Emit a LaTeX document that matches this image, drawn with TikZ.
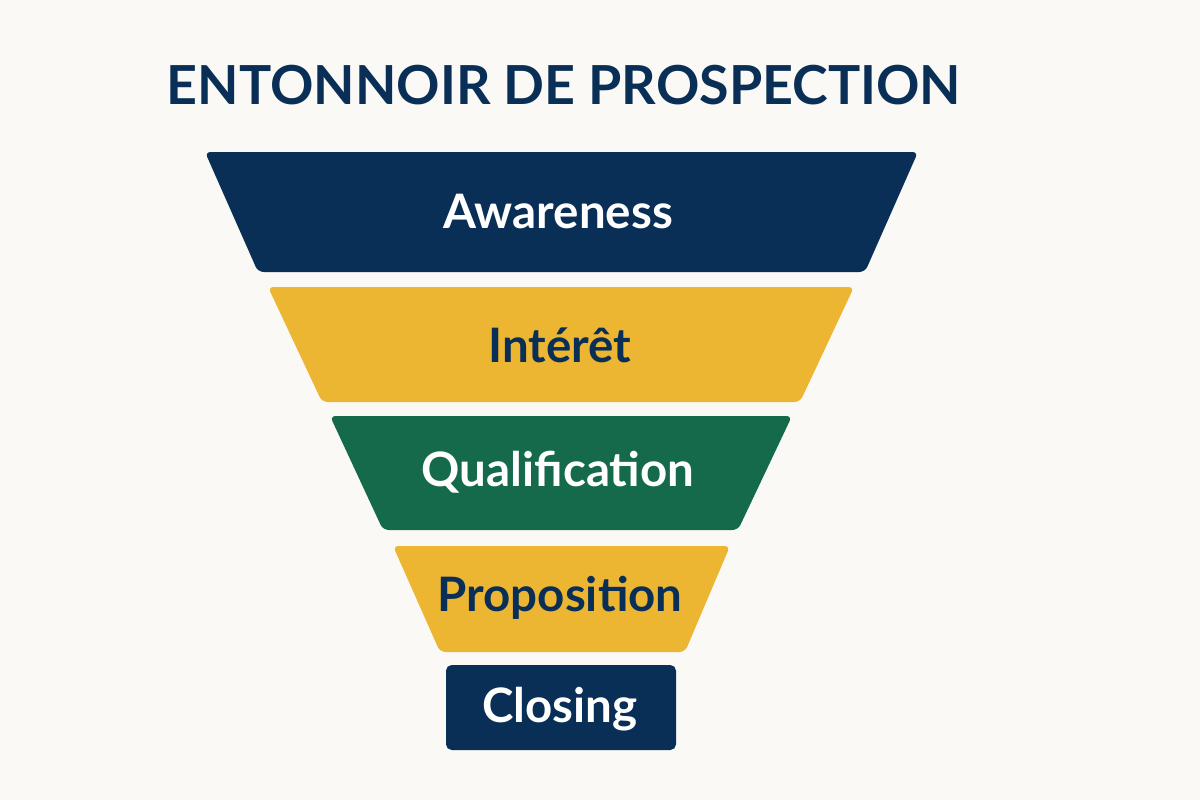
\documentclass[tikz,border=0pt]{standalone}
\usepackage{fontspec}
\setmainfont{Lato}
\definecolor{navy}{HTML}{0A2F57}
\definecolor{gold}{HTML}{EDB632}
\definecolor{forest}{HTML}{146A4B}
\definecolor{paper}{HTML}{FAF9F5}
\tikzset{
  layer/.style={rounded corners=1.6pt},
  lbl/.style={font=\fontsize{13.5}{16}\selectfont\bfseries},
}
\begin{document}
\begin{tikzpicture}[x=0.01cm,y=-0.01cm]
    \fill[paper] (0,0) rectangle (1200,800);
    \useasboundingbox (0,0) rectangle (1200,800);

    \node[anchor=west, inner sep=0pt, navy, font=\fontsize{15.3}{18}\selectfont\bfseries] (title) at (166,85) {ENTONNOIR DE PROSPECTION};

    % funnel layers
    \fill[navy, layer] (205,152) -- (918,152) -- (865,272) -- (258,272) -- cycle;
    \fill[gold, layer] (268,287) -- (854,287) -- (800,402) -- (322,402) -- cycle;
    \fill[forest, layer] (330,416) -- (792,416) -- (738,530) -- (383,530) -- cycle;
    \fill[gold, layer] (393,546) -- (730,546) -- (685,652) -- (440,652) -- cycle;
    \fill[navy, layer] (446,665) rectangle (676,750);

    \node[lbl, white] (awareness) at (558,212) {Awareness};
    \node[lbl, navy] (interet) at (560,345) {Intérêt};
    \node[lbl, white] (qualif) at (558,472) {Qualification};
    \node[lbl, navy] (proposition) at (560,598) {Proposition};
    \node[lbl, white] (closing) at (560,709) {Closing};
  \end{tikzpicture}
\end{document}
